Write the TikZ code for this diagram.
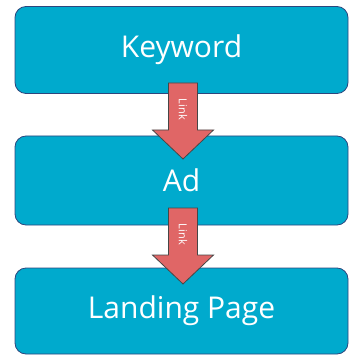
\documentclass[tikz,border=0pt]{standalone}
\usepackage{fontspec}
\setmainfont{Open Sans}
\definecolor{boxblue}{RGB}{0,170,205}
\definecolor{boxline}{RGB}{45,70,125}
\definecolor{arrowred}{RGB}{224,102,102}
\definecolor{arrowline}{RGB}{70,70,70}

\begin{document}
\begin{tikzpicture}[x=1pt, y=1pt,
  box/.style={draw=boxline, line width=0.8pt, fill=boxblue, rounded corners=11pt, minimum width=333pt, text=white, font=\fontsize{30}{34}\selectfont},
  linkarrow/.style={draw=arrowline, line width=0.8pt, fill=arrowred},
  linktext/.style={text=white, rotate=-90, font=\fontsize{11}{12}\selectfont, inner sep=0pt}]
\useasboundingbox (0,0) rectangle (349,-355);
\node[box, minimum height=87pt] (B1) at (181.5,-50) {Keyword};
\node[box, minimum height=89pt] (B2) at (181.5,-180.5) {Ad};
\node[box, minimum height=86pt] (B3) at (181.5,-311) {Landing Page};

\coordinate (A1) at (183,-83);
\coordinate (A2) at (183,-208);
\draw[linkarrow] (A1) ++(-14.5,0) -- ++(29,0) -- ++(0,-47) -- ++(16,0) -- ++(-30.5,-29) -- ++(-30.5,29) -- ++(16,0) -- cycle;
\draw[linkarrow] (A2) ++(-14.5,0) -- ++(29,0) -- ++(0,-47) -- ++(16,0) -- ++(-30.5,-29) -- ++(-30.5,29) -- ++(16,0) -- cycle;
\node[linktext] (L1) at (183,-109.5) {Link};
\node[linktext] (L2) at (183,-234.5) {Link};
\end{tikzpicture}
\end{document}
